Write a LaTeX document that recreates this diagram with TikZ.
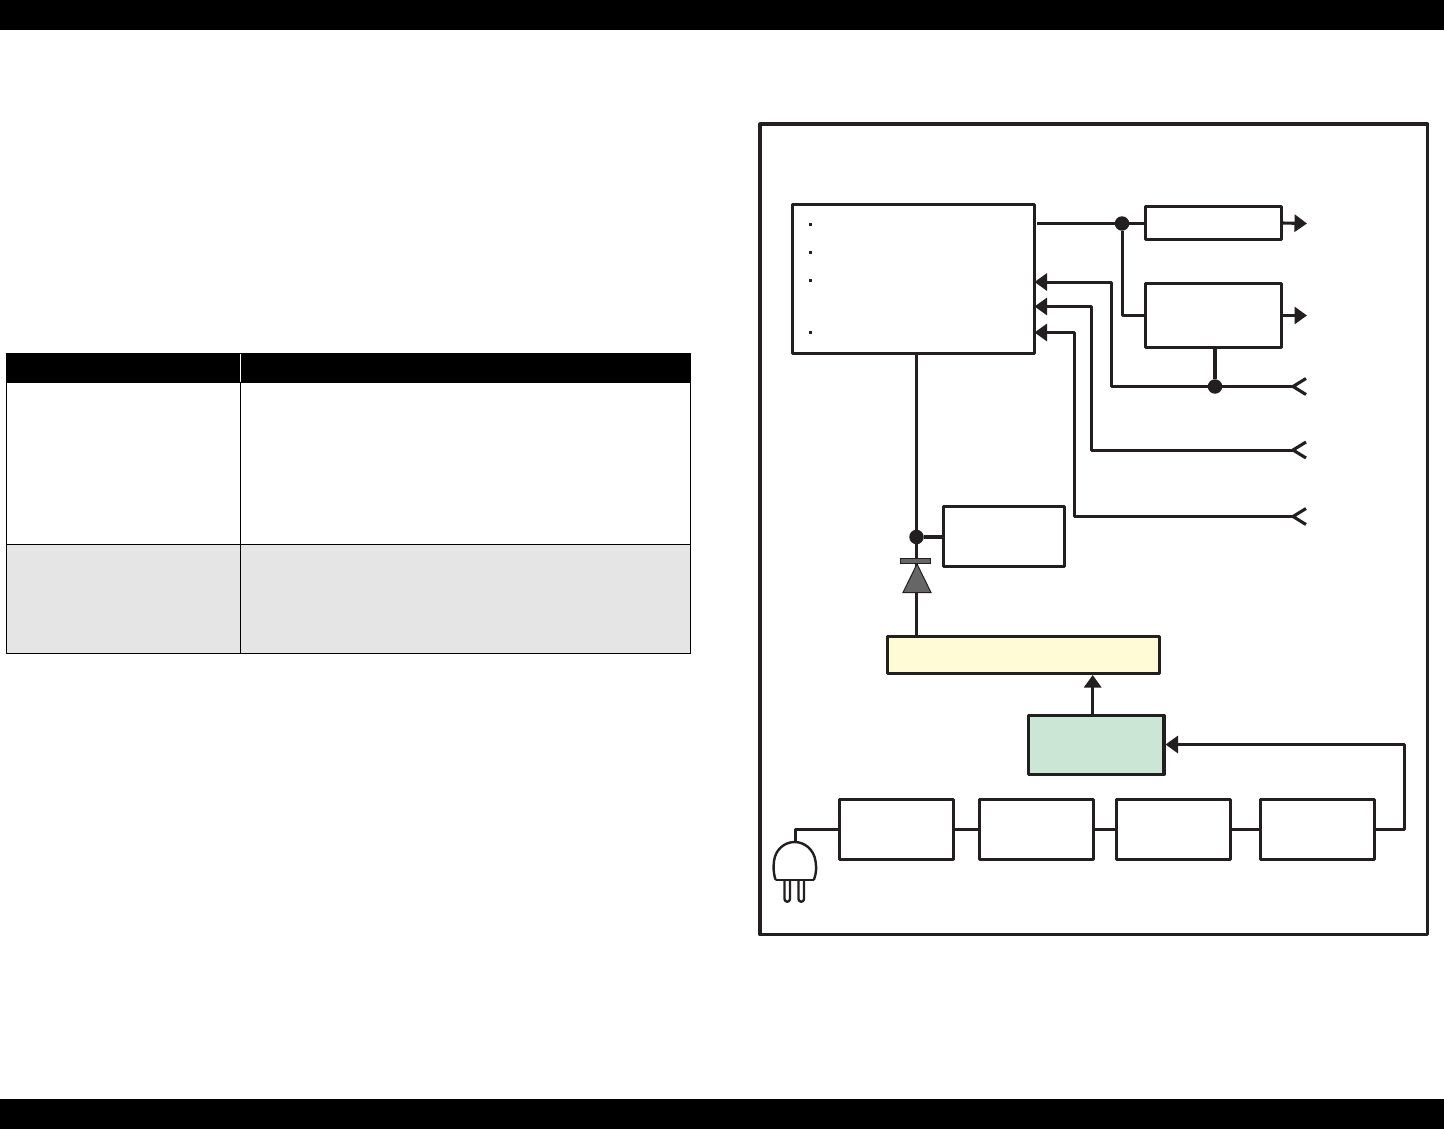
\documentclass[tikz,border=0pt]{standalone}
\usetikzlibrary{arrows.meta}
\definecolor{ink}{HTML}{231F20}
\definecolor{diodegrey}{HTML}{666666}
\definecolor{paleyellow}{HTML}{FFFBD6}
\definecolor{palegreen}{HTML}{CCE6D6}
\definecolor{rowgrey}{HTML}{E5E5E5}
\tikzset{
  blockbox/.style={draw=ink,line width=3.1pt,line join=round,rectangle,inner sep=0pt,outer sep=0pt,anchor=north west},
  wire/.style={draw=ink,line width=3.1pt,line join=round},
  thinwire/.style={draw=ink,line width=3pt,line join=round},
  junction/.style={circle,fill=ink,inner sep=0pt,outer sep=0pt,minimum size=14.5pt},
  bullet/.style={rectangle,fill=ink,inner sep=0pt,outer sep=0pt,minimum size=3.2pt},
  into/.style={-{Triangle[length=12.5pt,width=17pt,fill=ink]}},
  band/.style={fill=black,draw=none,rectangle,inner sep=0pt,outer sep=0pt,anchor=north west},
  cellbox/.style={draw=black,line width=1.4pt,rectangle,inner sep=0pt,outer sep=0pt,anchor=north west},
  headcell/.style={fill=black,draw=none,rectangle,inner sep=0pt,outer sep=0pt,anchor=north west},
  divider/.style={draw=white,line width=1.4pt},
  diodepart/.style={fill=diodegrey,draw=ink,line width=1pt,line join=miter},
  plugline/.style={draw=ink,line width=2.4pt,line join=round,line cap=round}
}
\begin{document}
\begin{tikzpicture}[x=1pt,y=-1pt]
\useasboundingbox (0,0) rectangle (1444,1129);
% page bands
\node[band,minimum width=1444pt,minimum height=29.7pt] (topband) at (0,0) {};
\node[band,minimum width=1444pt,minimum height=30pt] (bottomband) at (0,1099) {};
% table
\node[cellbox,minimum width=234pt,minimum height=162pt] (cellAa) at (6.7,382.5) {};
\node[cellbox,minimum width=450pt,minimum height=162pt] (cellBa) at (240.7,382.5) {};
\node[cellbox,fill=rowgrey,minimum width=234pt,minimum height=109pt] (cellAb) at (6.7,544.5) {};
\node[cellbox,fill=rowgrey,minimum width=450pt,minimum height=109pt] (cellBb) at (240.7,544.5) {};
\node[headcell,minimum width=685pt,minimum height=30pt] (head) at (6,353) {};
\draw[divider] (240.7,354) -- (240.7,382);
% frame
\node[blockbox,minimum width=667.5pt,minimum height=810.5pt] (frame) at (760,124) {};
% blocks
\node[blockbox,minimum width=242pt,minimum height=148.8pt] (main) at (792.5,204.7) {};
\node[bullet] (ba) at (810.5,224.5) {};
\node[bullet] (bb) at (810.5,252.5) {};
\node[bullet] (bc) at (810.5,280.5) {};
\node[bullet] (bd) at (810.5,332.5) {};
\node[blockbox,minimum width=136pt,minimum height=33pt] (reg) at (1145.5,206.5) {};
\node[blockbox,minimum width=136pt,minimum height=64pt] (conv) at (1145.5,283.5) {};
\node[blockbox,minimum width=121pt,minimum height=60pt] (aux) at (943.5,506.5) {};
\node[blockbox,fill=paleyellow,minimum width=272pt,minimum height=37pt] (yellow) at (887.5,636.5) {};
\node[blockbox,fill=palegreen,minimum width=135.5pt,minimum height=59pt] (green) at (1028.5,715.5) {};
\node[blockbox,minimum width=114pt,minimum height=60pt] (in1) at (839.5,799.5) {};
\node[blockbox,minimum width=114pt,minimum height=60pt] (in2) at (979.5,799.5) {};
\node[blockbox,minimum width=114pt,minimum height=60pt] (in3) at (1116.5,799.5) {};
\node[blockbox,minimum width=114pt,minimum height=60pt] (in4) at (1260.5,799.5) {};
% junctions
\node[junction] (jout) at (1122,223.5) {};
\node[junction] (jconv) at (1215,386.5) {};
\node[junction] (jaux) at (916.5,537) {};
% free ends and corners
\coordinate (outA) at (1307,223.5);
\coordinate (outB) at (1307,315.5);
\coordinate (forkA) at (1293,386.5);
\coordinate (forkB) at (1293,450);
\coordinate (forkC) at (1293,516.5);
\coordinate (cornerA) at (1111,282);
\coordinate (cornerB) at (1091.5,306.5);
\coordinate (cornerC) at (1074,332.5);
\coordinate (busX) at (1404.5,744.5);
\coordinate (plugTop) at (795,842);
% main outputs
\draw[wire,shorten <=2.5pt] (main.east |- jout) -- (jout);
\draw[wire] (jout) -- (reg.west |- jout);
\draw[thinwire] (jout) |- (conv.west);
\draw[wire,into] (reg.east) -- (outA);
\draw[wire,into] (conv.east) -- (outB);
\draw[wire] (conv.south -| jconv) -- (jconv);
% feedback inputs
\draw[thinwire,into] (forkA) -- (cornerA |- forkA) -- (cornerA) -- (main.east |- cornerA);
\draw[thinwire,into] (forkB) -- (cornerB |- forkB) -- (cornerB) -- (main.east |- cornerB);
\draw[thinwire,into] (forkC) -- (cornerC |- forkC) -- (cornerC) -- (main.east |- cornerC);
\draw[wire] (forkA) -- ++(13,-8) (forkA) -- ++(13,8);
\draw[wire] (forkB) -- ++(13,-8) (forkB) -- ++(13,8);
\draw[wire] (forkC) -- ++(13,-8) (forkC) -- ++(13,8);
% supply path
\draw[wire] (main.south -| jaux) -- (jaux);
\draw[wire] (jaux) -- (aux.west |- jaux);
\draw[wire] (jaux) -- (jaux |- yellow.north);
\draw[diodepart] (900.5,558.5) rectangle (930.5,563.5);
\draw[diodepart] (917,564) -- (931,592.5) -- (903,592.5) -- cycle;
\draw[wire,into,shorten >=1.5pt] (green.north -| 1092.7,0) -- (yellow.south -| 1092.7,0);
% input chain
\draw[wire] (in1.east) -- (in2.west);
\draw[wire] (in2.east) -- (in3.west);
\draw[wire] (in3.east) -- (in4.west);
\draw[wire,into,shorten >=1.5pt] (in4.east) -| (busX) -- (green.east |- busX);
\draw[thinwire] (in1.west) -| (plugTop);
% plug
\draw[plugline,fill=white] (775.5,879.5) .. controls (773,872) and (773.5,866) .. (774,861)
  .. controls (775.5,849) and (785,842) .. (794.5,842)
  .. controls (805,842) and (814,850) .. (815.5,861)
  .. controls (816.5,867) and (816.5,873) .. (814,879.5);
\draw[draw=ink,line width=1.6pt] (775.5,880) -- (814,880);
\draw[plugline] (784.5,880) -- (784.5,899) arc[start angle=180,end angle=360,radius=2.75pt] -- (790,880);
\draw[plugline] (798.5,880) -- (798.5,899) arc[start angle=180,end angle=360,radius=2.75pt] -- (804,880);
\end{tikzpicture}
\end{document}
